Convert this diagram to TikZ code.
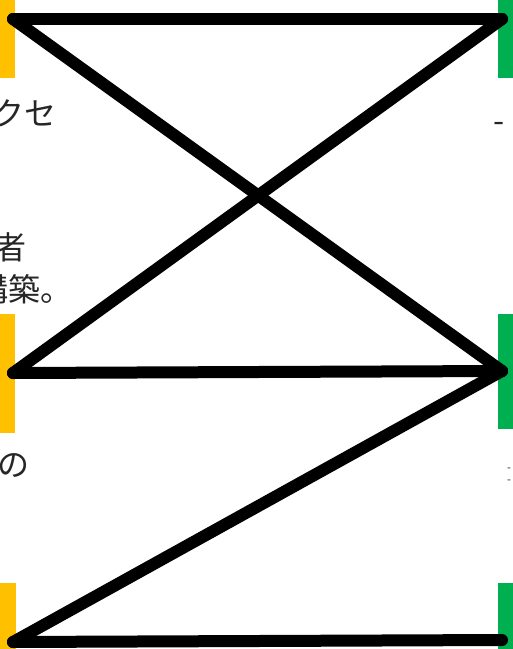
\documentclass[tikz,border=0pt]{standalone}
\usepackage{fontspec}
\newfontfamily\cjk{Noto Sans CJK JP}
\definecolor{barY}{HTML}{FFC000}
\definecolor{barG}{HTML}{00B050}
\tikzset{
  ybar/.style={fill=barY, draw=none, inner sep=0pt, anchor=north west},
  gbar/.style={fill=barG, draw=none, inner sep=0pt, anchor=north west},
  link/.style={line width=12pt, line cap=round, line join=round, black},
  jtxt/.style={inner sep=0pt, font=\cjk\fontsize{32}{38}\selectfont, text=black!85},
  stxt/.style={inner sep=0pt, font=\cjk\fontsize{11}{13}\selectfont, text=black!85}
}
\begin{document}
\begin{tikzpicture}[x=1pt,y=-1pt]
\useasboundingbox (0,0) rectangle (513,649);
\clip (0,0) rectangle (513,649);
\fill[white] (0,0) rectangle (513,649);
% bars
\node[ybar, minimum width=15pt, minimum height=78pt] (y1) at (0,0) {};
\node[ybar, minimum width=15pt, minimum height=119pt] (y2) at (0,314) {};
\node[ybar, minimum width=16pt, minimum height=70pt] (y3) at (0,583) {};
\node[gbar, minimum width=15pt, minimum height=78pt] (g1) at (498,0) {};
\node[gbar, minimum width=15pt, minimum height=115pt] (g2) at (498,314) {};
\node[gbar, minimum width=15pt, minimum height=70pt] (g3) at (498,583) {};
% endpoints
\coordinate (L1) at (13,19);
\coordinate (R1) at (502,19);
\coordinate (L2) at (13,373);
\coordinate (R2) at (502,371);
\coordinate (L3) at (13,642);
\coordinate (R3) at (502,640);
% texts
\node[jtxt, anchor=base east] (t1) at (57,125) {アクセ};
\node[jtxt, anchor=base east] (t2) at (27,259) {者};
\node[jtxt, anchor=base east] (t3) at (73,301) {構築。};
\node[jtxt, anchor=base east] (t4) at (30,476) {の};
\node[jtxt, anchor=base west] (t5) at (493,132) {-};
\node[stxt, anchor=base west] (t6) at (507,471) {-};
\node[stxt, anchor=base west] (t7) at (507,483) {-};
% connectors
\draw[link] (L1) -- (R1);
\draw[link] (L1) -- (R2);
\draw[link] (R1) -- (L2);
\draw[link] (L2) -- (R2);
\draw[link] (R2) -- (L3);
\draw[link] (L3) -- (R3);
\end{tikzpicture}
\end{document}
